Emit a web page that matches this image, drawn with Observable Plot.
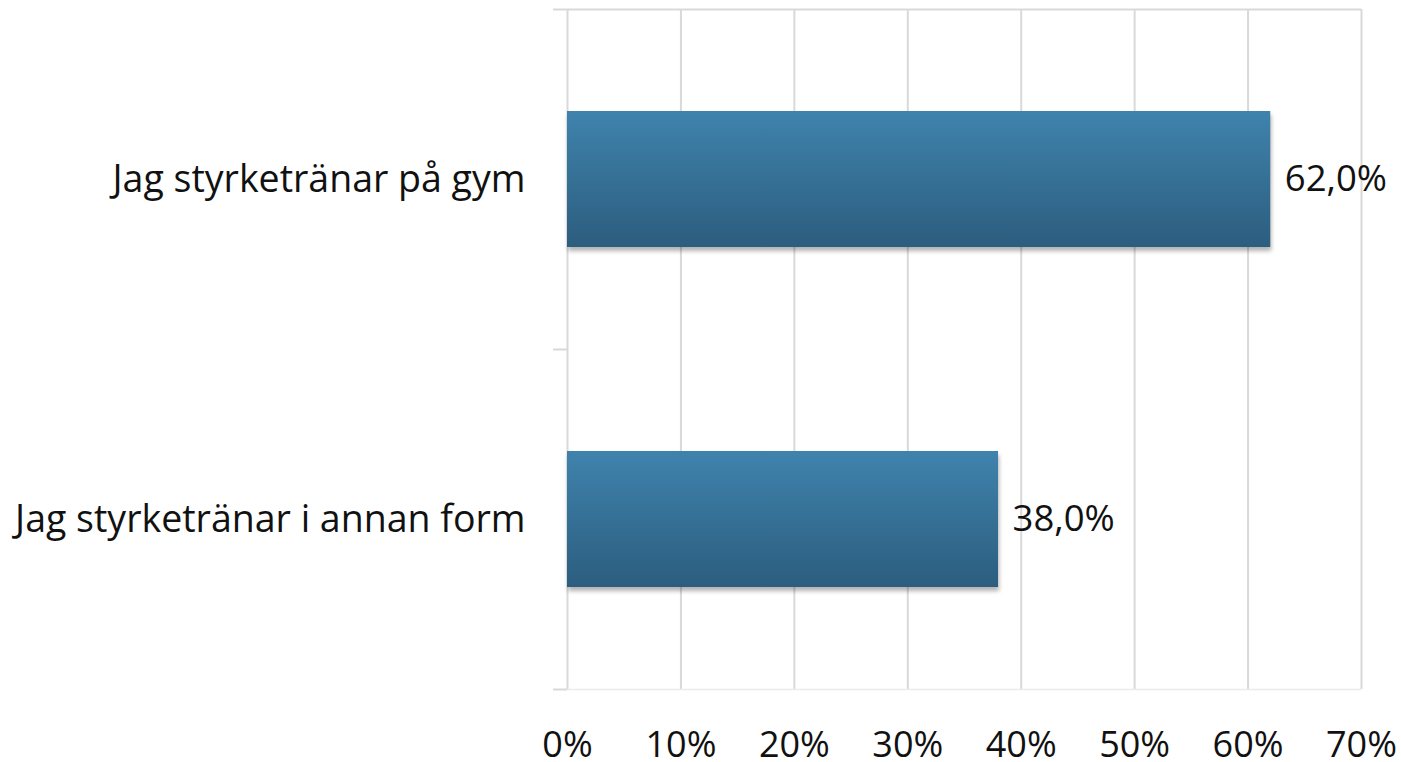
<!DOCTYPE html>
<html>
<head>
<meta charset="utf-8">
<script src="https://cdn.jsdelivr.net/npm/d3@7"></script>
<script src="https://cdn.jsdelivr.net/npm/@observablehq/plot@0.6"></script>
<style>
  body { margin: 0; background: #fff; }
  #chart svg { font-family: "Open Sans", Lato, sans-serif; }
</style>
</head>
<body>
<div id="chart"></div>
<script>
const categories = ["Jag styrketränar på gym", "Jag styrketränar i annan form"];
const values = [62.0, 38.0];
const xTicks = [0, 10, 20, 30, 40, 50, 60, 70];
const bandEdges = [0, 1, 2];

const rows = categories.map((c, i) => ({category: c, value: values[i], index: i}));

const plot = Plot.plot({
  width: 1401,
  height: 762,
  marginLeft: 567,
  marginRight: 40,
  marginTop: 9,
  marginBottom: 73,
  style: {fontFamily: "'Open Sans', Lato, sans-serif", fontSize: "36px", color: "#111", background: "#fff"},
  x: {domain: [0, 70]},
  y: {domain: [0, 2], reverse: true},
  marks: [
    Plot.ruleX(xTicks, {y1: 0, y2: 2, stroke: "#d9d9d9", strokeWidth: 2}),
    Plot.ruleY([0], {x1: 0, x2: 70, stroke: "#d9d9d9", strokeWidth: 2}),
    Plot.ruleY([2], {x1: 0, x2: 70, stroke: "#ebebeb", strokeWidth: 1.5}),
    Plot.axisY(bandEdges, {tickSize: 14, tickFormat: () => "", stroke: "#d9d9d9", strokeWidth: 2, label: null}),
    Plot.axisY(rows.map(d => d.index + 0.5), {
      tickSize: 0, tickPadding: 42, label: null, fontSize: 37.5, fill: "#111",
      tickFormat: d => categories[Math.floor(d)]
    }),
    Plot.axisX(xTicks, {tickSize: 0, tickPadding: 42, label: null, fontSize: 36, fill: "#111", tickFormat: d => d + "%"}),
    Plot.rectX(rows, {
      x1: 0, x2: "value",
      y1: d => d.index + 0.3, y2: d => d.index + 0.7,
      fill: "url(#barGrad)"
    }),
    Plot.text(rows, {
      x: "value", y: d => d.index + 0.5,
      text: d => d.value.toFixed(1).replace(".", ",") + "%",
      dx: 14, textAnchor: "start", fontSize: 36.5, fill: "#111"
    })
  ]
});

const svg = d3.select(plot);
const defs = svg.insert("defs", ":first-child");
const grad = defs.append("linearGradient").attr("id", "barGrad")
  .attr("x1", 0).attr("y1", 0).attr("x2", 0).attr("y2", 1);
grad.append("stop").attr("offset", "0%").attr("stop-color", "#3f83ad");
grad.append("stop").attr("offset", "100%").attr("stop-color", "#2c5d7e");
svg.selectAll('g[fill="url(#barGrad)"]').style("filter", "drop-shadow(1px 4px 2px rgba(0,0,0,0.3))");

document.getElementById("chart").appendChild(plot);
</script>
</body>
</html>
